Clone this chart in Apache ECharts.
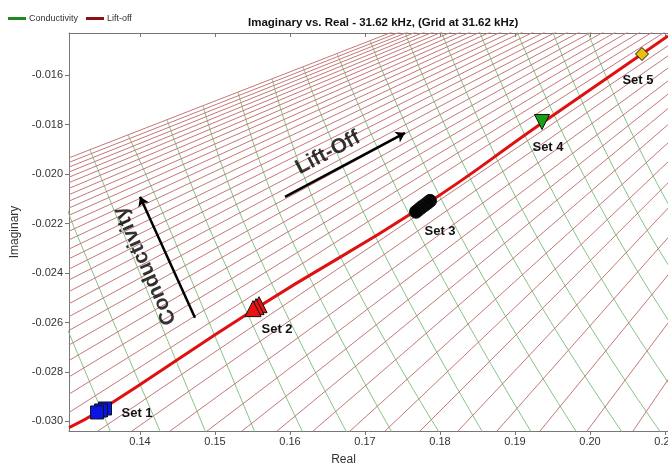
<!DOCTYPE html>
<html><head><meta charset="utf-8">
<script src="https://cdn.jsdelivr.net/npm/echarts@6/dist/echarts.min.js"></script>
<style>html,body{margin:0;padding:0;background:#fff}#c{width:668px;height:466px}</style>
</head><body><div id="c"></div>
<script>
// axis ranges and ticks
const xRange = [0.13053, 0.2104];
const yRange = [-0.03039, -0.01429];
const xTicks = [0.14, 0.15, 0.16, 0.17, 0.18, 0.19, 0.20, 0.21];
const yTicks = [-0.030, -0.028, -0.026, -0.024, -0.022, -0.020, -0.018, -0.016];

// lift-off grid lines: y where each crosses the left edge, x where each crosses the bottom edge
const liftLeftY = [-0.019341, -0.019523, -0.019713, -0.019911, -0.020121, -0.020343, -0.020577, -0.020828,
  -0.02109, -0.021369, -0.021664, -0.021975, -0.022306, -0.022658, -0.02303, -0.023421, -0.023838,
  -0.024278, -0.024747, -0.02524, -0.025765, -0.026322, -0.026912, -0.027538, -0.028201, -0.0289, -0.029643];
const liftBottomX = [0.1344, 0.13893, 0.144, 0.14893, 0.1536, 0.15827, 0.16307, 0.168, 0.17267, 0.17733,
  0.1824, 0.1876, 0.19333, 0.1996, 0.20573];
const liftConverge = [0.2667, -0.00326];

// conductivity grid lines (green)
const condLines = [
 [[0.12867,-0.02508],[0.13707,-0.03114]],
 [[0.12947,-0.02063],[0.13133,-0.02225],[0.14373,-0.03114]],
 [[0.13333,-0.01901],[0.1376,-0.02225],[0.14973,-0.03114]],
 [[0.1384,-0.018412],[0.144,-0.02225],[0.15627,-0.03114]],
 [[0.1436,-0.017798],[0.14933,-0.02225],[0.1628,-0.03114]],
 [[0.1484,-0.017228],[0.15427,-0.02225],[0.1688,-0.03114]],
 [[0.15307,-0.016679],[0.1596,-0.02225],[0.17493,-0.03114]],
 [[0.1576,-0.016141],[0.16493,-0.02225],[0.18133,-0.03114]],
 [[0.16173,-0.015653],[0.17093,-0.02225],[0.18707,-0.03114]],
 [[0.16627,-0.015119],[0.17693,-0.02225],[0.1936,-0.03114]],
 [[0.17067,-0.014598],[0.18227,-0.02225],[0.19973,-0.03114]],
 [[0.17507,-0.014077],[0.1876,-0.02225],[0.20587,-0.03114]],
 [[0.17933,-0.013576],[0.1924,-0.02225],[0.21107,-0.03114]],
 [[0.18373,-0.013055],[0.19773,-0.02225],[0.2168,-0.03114]],
 [[0.188,-0.012554],[0.20307,-0.02225],[0.22267,-0.03114]],
 [[0.19227,-0.012045],[0.2076,-0.02225],[0.22867,-0.03114]],
 [[0.1964,-0.011556],[0.2124,-0.02225],[0.23467,-0.03114]]
];

// measured lift-off path
const pathLine = [[0.13053,-0.03025],[0.13467,-0.02956],[0.1556,-0.0254],[0.1776,-0.02132],[0.1936,-0.01793],[0.20693,-0.01514],[0.2104,-0.01441]];

// measurement sets
const set1 = [[0.13533,-0.02948],[0.1348,-0.02956],[0.13427,-0.02964]];
const set2 = [[0.15587,-0.02528],[0.15547,-0.02536],[0.15507,-0.02544]];
const set3 = [[0.17867,-0.02108],[0.1783,-0.02117],[0.1779,-0.02126],[0.17753,-0.02134],[0.17717,-0.02143],[0.1768,-0.02152]];
const set4 = [[0.1936,-0.01789]];
const set5 = [[0.20693,-0.01514]];

// annotations
const liftArrow = [[0.15933,-0.020917],[0.17533,-0.018331]];
const condArrow = [[0.14733,-0.025805],[0.14,-0.020917]];
const liftText = [0.16507,-0.01914];
const condText = [0.14067,-0.023704];

const FONT = 'Liberation Sans, Arial, sans-serif';
const series = [];
condLines.forEach(l => series.push({type:'line', name:'Conductivity', data:l, smooth:true, showSymbol:false, silent:true,
  lineStyle:{color:'#86c286', width:1}, z:1}));
liftLeftY.forEach(y => series.push({type:'line', name:'Lift-off', data:[[xRange[0], y], liftConverge], showSymbol:false, silent:true,
  lineStyle:{color:'#c47878', width:1}, z:1}));
liftBottomX.forEach(x => series.push({type:'line', name:'Lift-off', data:[[x, yRange[0]], liftConverge], showSymbol:false, silent:true,
  lineStyle:{color:'#c47878', width:1}, z:1}));
series.push({type:'line', data:pathLine, showSymbol:false, smooth:true, lineStyle:{color:'#e01010', width:3}, z:3});

function setSeries(data, symbol, size, color, label, offset, rot){
  const n = data.length;
  return {type:'scatter', data, symbol, symbolSize:size, symbolRotate:rot||0, z:5,
    itemStyle:{color, borderColor:'#111', borderWidth:1, opacity:1},
    label:{show:true, position:'inside', offset, formatter:p=>p.dataIndex===n-1?label:'',
      fontFamily:FONT, fontSize:13, fontWeight:'bold', color:'#111'}};
}
series.push(setSeries(set1,'rect',13,'#0a14e6','Set 1',[40,1]));
series.push(setSeries(set2,'triangle',16,'#ee1111','Set 2',[24,21]));
series.push(setSeries(set3,'circle',13,'#050505','Set 3',[24,20]));
series.push(setSeries(set4,'triangle',15,'#16a016','Set 4',[6,25],180));
series.push(setSeries(set5,'diamond',13,'#e8c010','Set 5',[-4,26]));

series.push({type:'lines', coordinateSystem:'cartesian2d', z:6, symbol:['none','arrow'], symbolSize:9,
  lineStyle:{color:'#000', width:2.5, opacity:1},
  data:[{coords:liftArrow},{coords:condArrow}]});
series.push({type:'scatter', symbolSize:0, z:6, data:[liftText],
  label:{show:true, position:'inside', formatter:'Lift-Off', rotate:28, fontFamily:FONT, fontSize:21, fontWeight:'bold', color:'#000'}});
series.push({type:'scatter', symbolSize:0, z:6, data:[condText],
  label:{show:true, position:'inside', formatter:'Conductivity', rotate:114, fontFamily:FONT, fontSize:21, fontWeight:'bold', color:'#000'}});

const chart = echarts.init(document.getElementById('c'), null, {renderer:'canvas'});
chart.setOption({
  animation:false,
  backgroundColor:'#fff',
  title:{text:'Imaginary vs. Real - 31.62 kHz, (Grid at 31.62 kHz)', left:243, top:12,
    textStyle:{fontFamily:FONT, fontSize:11.5, fontWeight:'bold', color:'#111'}},
  legend:{left:8, top:14, padding:0, itemGap:8, itemWidth:18, itemHeight:3, icon:'rect',
    textStyle:{fontFamily:FONT, fontSize:9, color:'#333', padding:[0,0,0,-2]},
    data:[{name:'Conductivity', itemStyle:{color:'#1d8a1d'}}, {name:'Lift-off', itemStyle:{color:'#8b1010'}}]},
  grid:{left:69, right:0, top:33, bottom:35, containLabel:false, outerBoundsMode:'none'},
  xAxis:[{type:'value', min:xRange[0], max:xRange[1], splitLine:{show:false},
    axisLine:{show:true, onZero:false, lineStyle:{color:'#777'}},
    axisTick:{show:true, customValues:xTicks, length:4, lineStyle:{color:'#777'}},
    axisLabel:{customValues:xTicks, formatter:v=>v.toFixed(2), fontFamily:FONT, fontSize:11, color:'#333', margin:5},
    name:'Real', nameLocation:'middle', nameGap:23, nameTextStyle:{fontFamily:FONT, fontSize:12, color:'#333', padding:[0,50,0,0]}},
   {type:'value', position:'top', min:xRange[0], max:xRange[1], splitLine:{show:false},
    axisLine:{show:true, onZero:false, lineStyle:{color:'#777'}},
    axisTick:{show:true, inside:true, customValues:xTicks, length:4, lineStyle:{color:'#777'}},
    axisLabel:{show:false}}],
  yAxis:{type:'value', min:yRange[0], max:yRange[1], splitLine:{show:false},
    axisLine:{show:true, onZero:false, lineStyle:{color:'#777'}},
    axisTick:{show:true, customValues:yTicks, length:4, lineStyle:{color:'#777'}},
    axisLabel:{customValues:yTicks, formatter:v=>v.toFixed(3), fontFamily:FONT, fontSize:11, color:'#333', margin:6},
    name:'Imaginary', nameLocation:'middle', nameGap:48, nameTextStyle:{fontFamily:FONT, fontSize:12, color:'#333'}},
  series
});
</script></body></html>
